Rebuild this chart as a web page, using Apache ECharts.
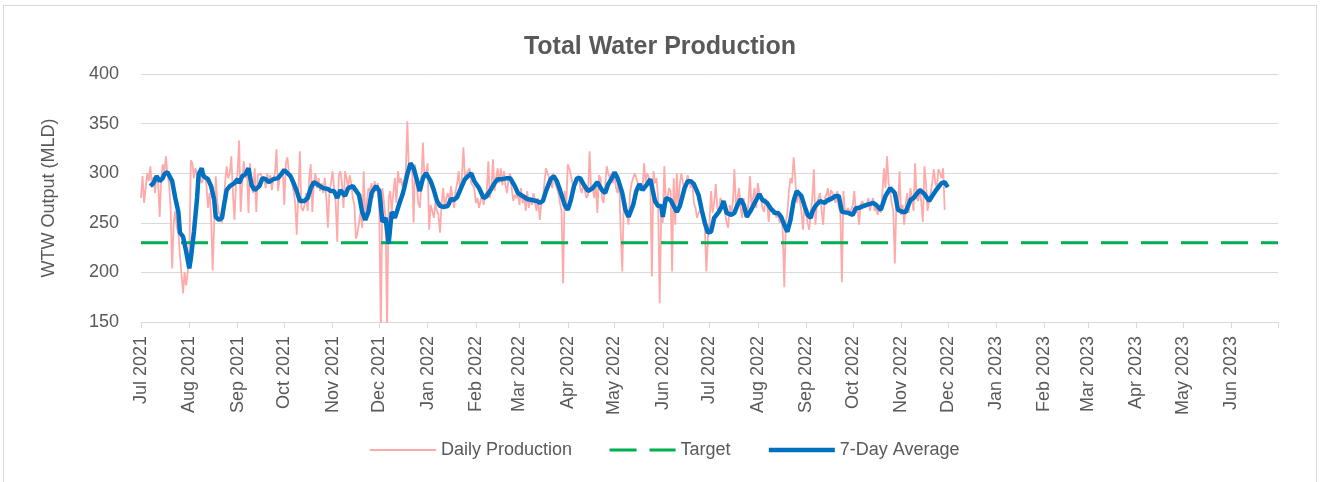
<!DOCTYPE html>
<html>
<head>
<meta charset="utf-8">
<title>Total Water Production</title>
<script src="https://cdn.jsdelivr.net/npm/echarts@6/dist/echarts.min.js"></script>
<style>
    html, body { margin: 0; padding: 0; background: #fff; overflow: hidden; }
    #chart { width: 1320px; height: 482px; }
    #frame { position: absolute; left: 3px; top: 5px; width: 1314px; height: 520px;
             box-sizing: border-box; border: 1px solid #d9d9d9; pointer-events: none; }
</style>
</head>
<body>
<div id="chart"></div>
<div id="frame"></div>
<script>
// daily production (MLD), one value per day from 1 Jul 2021
var startDate = [2021, 6, 1];
var dailyValues = [
    275, 297, 270, 285, 300, 292, 307, 288, 296, 280,
    298, 290, 256, 295, 309, 300, 317, 298, 290, 265,
    204, 250, 262, 245, 240, 217, 215, 179, 200, 187,
    200, 212, 313, 310, 295, 305, 300, 298, 296, 290,
    290, 300, 288, 265, 280, 258, 202, 250, 297, 270,
    260, 255, 250, 270, 290, 307, 295, 300, 317, 280,
    253, 290, 300, 333, 261, 290, 312, 295, 305, 260,
    310, 285, 280, 305, 261, 298, 296, 300, 292, 295,
    285, 300, 291, 298, 283, 295, 300, 324, 282, 295,
    300, 305, 268, 310, 316, 300, 295, 290, 282, 270,
    238, 280, 322, 265, 262, 268, 280, 262, 295, 309,
    261, 290, 300, 285, 295, 282, 290, 280, 295, 275,
    245, 282, 290, 302, 285, 270, 231, 298, 302, 290,
    265, 302, 295, 285, 298, 290, 275, 268, 234, 240,
    250, 262, 245, 302, 255, 270, 285, 282, 290, 275,
    292, 282, 290, 261, 140, 285, 270, 255, 142, 275,
    282, 261, 280, 295, 270, 302, 290, 295, 285, 285,
    302, 352, 300, 305, 310, 250, 309, 310, 270, 265,
    290, 331, 295, 300, 310, 243, 268, 262, 255, 270,
    262, 258, 240, 270, 285, 265, 275, 280, 270, 287,
    275, 265, 282, 290, 302, 280, 295, 326, 295, 300,
    300, 305, 290, 292, 285, 270, 275, 265, 272, 280,
    268, 278, 282, 312, 275, 285, 314, 282, 295, 305,
    290, 305, 288, 302, 288, 280, 295, 300, 285, 272,
    278, 275, 280, 268, 285, 270, 278, 262, 282, 265,
    275, 268, 280, 270, 262, 275, 253, 268, 272, 290,
    305, 300, 296, 292, 285, 300, 290, 285, 280, 270,
    262, 189, 282, 265, 309, 305, 298, 290, 280, 292,
    295, 298, 285, 280, 290, 282, 275, 278, 322, 282,
    285, 275, 290, 260, 298, 295, 275, 270, 288, 307,
    300, 295, 300, 290, 300, 285, 280, 295, 241, 201,
    275, 270, 262, 248, 280, 290, 292, 300, 295, 290,
    282, 290, 285, 310, 290, 300, 296, 292, 196, 302,
    290, 295, 275, 169, 260, 250, 307, 270, 275, 285,
    282, 201, 295, 248, 300, 265, 290, 300, 298, 280,
    290, 298, 300, 285, 290, 270, 265, 255, 260, 258,
    265, 250, 245, 201, 235, 250, 282, 260, 270, 289,
    265, 260, 275, 272, 268, 260, 250, 245, 268, 260,
    270, 304, 265, 275, 285, 265, 255, 275, 262, 255,
    270, 297, 265, 275, 285, 265, 290, 280, 275, 265,
    261, 275, 270, 251, 268, 265, 258, 262, 255, 260,
    250, 255, 243, 185, 251, 260, 282, 295, 290, 316,
    297, 270, 280, 272, 262, 243, 268, 260, 250, 243,
    258, 275, 304, 248, 270, 275, 280, 262, 248, 275,
    278, 285, 270, 283, 280, 276, 270, 282, 265, 262,
    190, 282, 260, 262, 265, 260, 263, 268, 282, 260,
    265, 248, 268, 272, 270, 265, 268, 275, 262, 270,
    275, 262, 265, 258, 268, 260, 280, 305, 285, 317,
    290, 282, 270, 262, 209, 270, 262, 302, 258, 268,
    248, 270, 280, 260, 285, 275, 262, 310, 275, 272,
    285, 270, 251, 307, 290, 262, 272, 280, 290, 304,
    290, 285, 304, 300, 295, 305, 263
];

// 7-day average (day number from 1 Jul 2021, value)
var avgDays = [
    6, 8, 10, 12, 14, 15, 17, 18, 20, 22, 24, 25, 27, 29, 31, 32, 34, 36, 37, 39,
    40, 43, 45, 47, 48, 50, 52, 53, 55, 57, 60, 62, 63, 65, 67, 69, 71, 73, 76, 78,
    80, 82, 85, 88, 92, 94, 96, 98, 100, 102, 105, 107, 109, 111, 113, 115, 117, 120, 122, 124,
    126, 128, 131, 133, 136, 137, 140, 142, 144, 146, 148, 151, 153, 155, 157, 159, 161, 163, 166, 168,
    169, 171, 173, 175, 177, 179, 181, 183, 186, 188, 190, 192, 194, 197, 199, 201, 203, 206, 208, 212,
    214, 217, 220, 222, 224, 227, 229, 232, 235, 237, 240, 242, 245, 248, 251, 254, 256, 258, 260, 263,
    265, 267, 269, 272, 274, 276, 278, 280, 282, 284, 287, 290, 293, 296, 298, 300, 303, 304, 306, 309,
    311, 313, 316, 318, 320, 322, 325, 327, 330, 332, 334, 335, 337, 340, 342, 344, 346, 349, 351, 353,
    355, 358, 360, 362, 364, 366, 368, 371, 373, 374, 376, 379, 381, 383, 385, 387, 389, 391, 394, 397,
    399, 402, 404, 407, 409, 411, 413, 415, 417, 419, 421, 424, 426, 428, 430, 431, 433, 436, 439, 441,
    443, 446, 448, 450, 454, 457, 459, 461, 464, 466, 470, 472, 475, 478, 481, 484, 486, 489, 491, 494,
    496, 500, 503, 506, 508, 511, 514, 516, 518
];
var avgValues = [
    287, 290, 297, 292, 295, 299, 301, 300, 292, 275, 261, 240, 236, 221, 204, 214, 241, 275, 299, 305,
    297, 294, 287, 273, 256, 253, 255, 265, 283, 287, 290, 294, 290, 297, 299, 305, 288, 283, 287, 295,
    294, 291, 294, 295, 303, 300, 297, 290, 282, 272, 272, 275, 285, 291, 289, 287, 285, 284, 282, 282,
    275, 283, 277, 285, 287, 288, 278, 261, 253, 261, 280, 287, 282, 251, 255, 229, 261, 255, 270, 279,
    285, 299, 310, 305, 294, 282, 295, 300, 292, 283, 272, 267, 266, 267, 274, 273, 276, 287, 294, 300,
    292, 285, 275, 277, 282, 290, 294, 294, 295, 295, 287, 280, 277, 274, 273, 272, 270, 272, 282, 294,
    297, 292, 283, 268, 263, 273, 287, 295, 295, 289, 282, 285, 291, 283, 280, 289, 297, 301, 295, 280,
    263, 256, 268, 282, 289, 283, 289, 294, 272, 267, 267, 256, 275, 273, 267, 261, 267, 285, 292, 292,
    289, 278, 263, 250, 240, 241, 255, 261, 267, 272, 260, 258, 260, 268, 274, 268, 256, 261, 270, 279,
    273, 270, 265, 260, 260, 256, 248, 241, 253, 272, 282, 277, 267, 258, 255, 261, 267, 272, 270, 273,
    274, 277, 277, 261, 260, 258, 265, 265, 267, 268, 270, 268, 263, 277, 285, 280, 263, 261, 261, 273,
    275, 283, 279, 272, 277, 284, 290, 291, 286
];

var targetValue = 230;
var axisStart = '2021-07-01';
var axisEnd = '2023-07-01';
var monthNames = ['Jan', 'Feb', 'Mar', 'Apr', 'May', 'Jun', 'Jul', 'Aug', 'Sep', 'Oct', 'Nov', 'Dec'];

function dayToDate(d) {
    return new Date(startDate[0], startDate[1], startDate[2] + d);
}

var dailyData = dailyValues.map(function (v, i) { return [dayToDate(i), v]; });
var avgData = avgDays.map(function (d, i) { return [dayToDate(d), avgValues[i]]; });
var targetData = [[axisStart, targetValue], [axisEnd, targetValue]];
var lastTick = new Date(2023, 6, 1).getTime();

var myChart = echarts.init(document.getElementById('chart'));
var font = "'Liberation Sans', Arial, sans-serif";
var textColor = '#595959';
var lineGrey = '#d9d9d9';
var pink = '#ffaaaa', green = '#00b050', blue = '#0070c0';
var dash = [27, 13];

var option = {
    animation: false,
    textStyle: { fontFamily: font },
    title: {
        text: 'Total Water Production',
        left: 'center',
        top: 30,
        textStyle: { fontFamily: font, fontSize: 25, fontWeight: 'bold', color: textColor }
    },
    legend: {
        left: 364,
        top: 436,
        itemWidth: 66,
        itemHeight: 14,
        itemGap: 36,
        textStyle: { fontFamily: font, fontSize: 18, color: textColor },
        data: [
            { name: 'Daily Production', itemStyle: { opacity: 0 }, lineStyle: { color: pink, width: 2 } },
            { name: 'Target', itemStyle: { opacity: 0 }, lineStyle: { color: green, width: 3, type: dash } },
            { name: '7-Day Average', itemStyle: { opacity: 0 }, lineStyle: { color: blue, width: 4.5 } }
        ]
    },
    grid: {
        left: 141,
        right: 42,
        top: 74,
        bottom: 160,
        outerBoundsMode: 'none'
    },
    xAxis: {
        type: 'time',
        min: axisStart,
        max: axisEnd,
        splitNumber: 24,
        minInterval: 28 * 86400000,
        maxInterval: 31 * 86400000,
        axisLine: { show: true, lineStyle: { color: lineGrey, width: 1 } },
        axisTick: { show: true, length: 6, lineStyle: { color: lineGrey } },
        splitLine: { show: false },
        axisLabel: {
            rotate: 90,
            margin: 14,
            fontFamily: font,
            fontSize: 18,
            color: textColor,
            hideOverlap: false,
            formatter: function (val) {
                var d = new Date(val);
                if (d.getTime() >= lastTick) return '';
                return monthNames[d.getMonth()] + ' ' + d.getFullYear();
            }
        }
    },
    yAxis: {
        type: 'value',
        min: 150,
        max: 400,
        interval: 50,
        name: 'WTW Output (MLD)',
        nameLocation: 'middle',
        nameGap: 83,
        nameTextStyle: { fontFamily: font, fontSize: 18, color: textColor },
        axisLine: { show: false },
        axisTick: { show: false },
        splitLine: { lineStyle: { color: lineGrey, width: 1 } },
        axisLabel: { margin: 22, fontFamily: font, fontSize: 18, color: textColor }
    },
    series: [
        {
            name: 'Daily Production',
            type: 'line',
            symbol: 'none',
            data: dailyData,
            lineStyle: { color: pink, width: 1.8 },
            itemStyle: { color: pink }
        },
        {
            name: 'Target',
            type: 'line',
            symbol: 'none',
            data: targetData,
            lineStyle: { color: green, width: 3, type: dash },
            itemStyle: { color: green }
        },
        {
            name: '7-Day Average',
            type: 'line',
            symbol: 'none',
            data: avgData,
            lineStyle: { color: blue, width: 4.5 },
            itemStyle: { color: blue }
        }
    ]
};

option && myChart.setOption(option);
</script>
</body>
</html>
